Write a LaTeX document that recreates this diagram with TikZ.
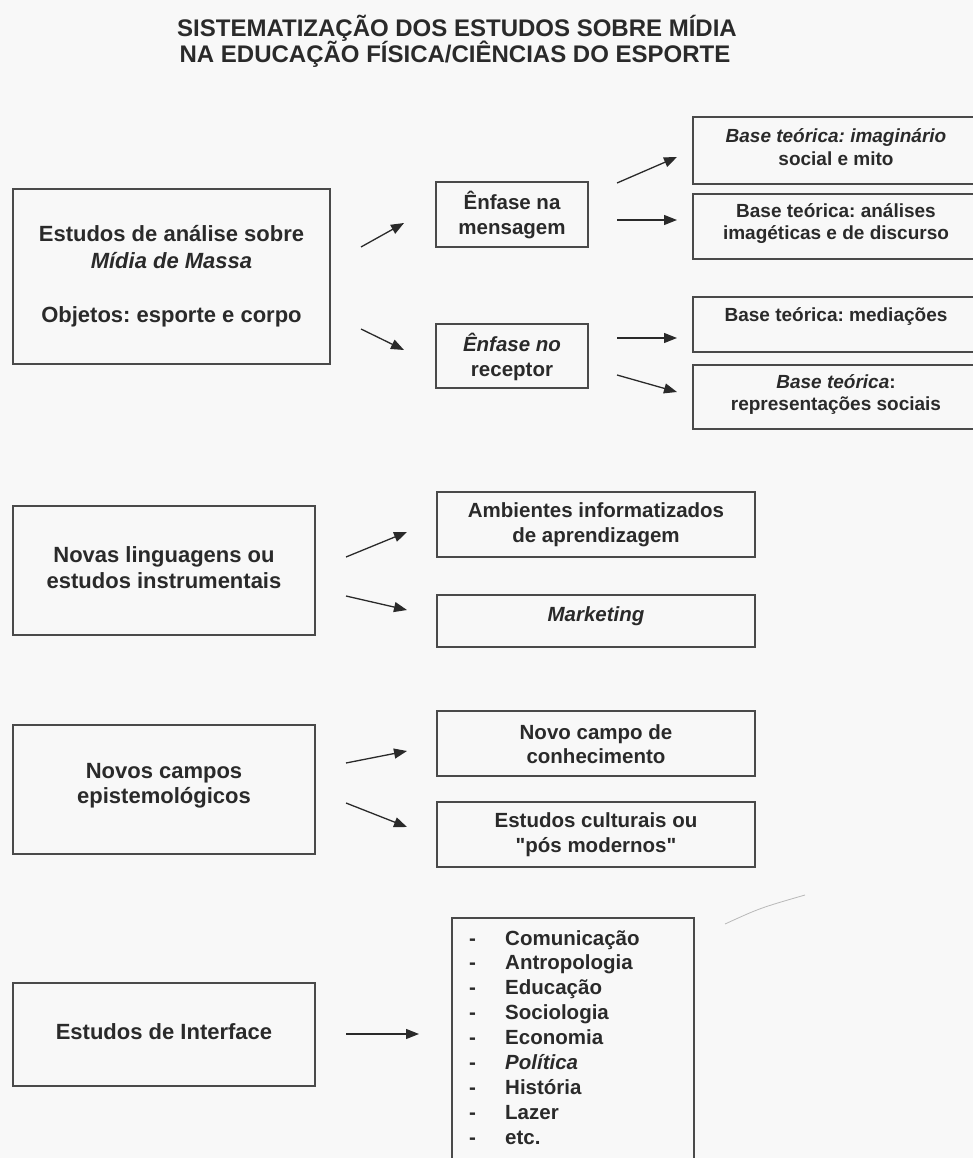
\documentclass[tikz,border=0pt]{standalone}
\usepackage{fontspec}
\setmainfont{Liberation Sans}[Ligatures=TeXOff]
\usetikzlibrary{arrows.meta}
\definecolor{ink}{HTML}{2A2A2A}
\definecolor{frame}{HTML}{4A4A4A}
\definecolor{paper}{HTML}{F8F8F8}
\frenchspacing
\begin{document}
\begin{tikzpicture}[x=1pt,y=-1pt,
  box/.style={draw=frame, line width=1.4pt, inner sep=0pt},
  ttl/.style={text=ink, anchor=base, inner sep=0pt, font=\fontsize{24}{26}\selectfont\bfseries},
  ltxt/.style={text=ink, align=center, font=\fontsize{22}{27}\selectfont\bfseries},
  ltxtb/.style={text=ink, align=center, font=\fontsize{22}{25.5}\selectfont\bfseries},
  mtxt/.style={text=ink, align=center, font=\fontsize{20.5}{24.5}\selectfont\bfseries},
  rtxt/.style={text=ink, align=center, font=\fontsize{19}{22.5}\selectfont\bfseries},
  arr/.style={draw=ink, line width=1.3pt, -{Triangle[length=13pt,width=10pt]}},
]
\useasboundingbox (0,0) rectangle (973,1158);
\fill[paper] (0,0) rectangle (973,1158);
\clip (0,0) rectangle (973,1158);

% title
\node[ttl] (title1) at (457,37) {SISTEMATIZAÇÃO DOS ESTUDOS SOBRE MÍDIA};
\node[ttl] (title2) at (455,63) {NA EDUCAÇÃO FÍSICA/CIÊNCIAS DO ESPORTE};

% block 1
\node[box, minimum width=317, minimum height=175] (a1) at (171.5,276.5) {};
\node[ltxt] (a1t) at (171.5,276.5) {Estudos de análise sobre\\\textit{Mídia de Massa}\\[27pt]Objetos: esporte e corpo};

\node[box, minimum width=152, minimum height=65] (m1) at (512,214.5) {};
\node[mtxt] (m1t) at (512,215) {Ênfase na\\mensagem};
\node[box, minimum width=152, minimum height=64] (m2) at (512,356) {};
\node[mtxt] (m2t) at (512,357) {\textit{Ênfase no}\\receptor};

\node[box, minimum width=286, minimum height=67] (b1) at (836,150.5) {};
\node[rtxt] (b1t) at (836,147) {\textit{Base teórica: imaginário}\\social e mito};
\node[box, minimum width=286, minimum height=65] (b2) at (836,226.5) {};
\node[rtxt] (b2t) at (836,223.5) {Base teórica: análises\\imagéticas e de discurso};
\node[box, minimum width=286, minimum height=55] (b3) at (836,324.5) {};
\node[rtxt] (b3t) at (836,317) {Base teórica: mediações};
\node[box, minimum width=286, minimum height=64] (b4) at (836,397) {};
\node[rtxt] (b4t) at (836,394.5) {\textit{Base teórica}:\\representações sociais};

% block 2
\node[box, minimum width=302, minimum height=129] (nl) at (164,570.5) {};
\node[ltxtb] (nlt) at (164,567.5) {Novas linguagens ou\\estudos instrumentais};
\node[box, minimum width=318, minimum height=65] (amb) at (596,524.5) {};
\node[mtxt] (ambt) at (596,524.5) {Ambientes informatizados\\de aprendizagem};
\node[box, minimum width=318, minimum height=52] (mkt) at (596,621) {};
\node[mtxt] (mktt) at (596,616) {\textit{Marketing}};

% block 3
\node[box, minimum width=302, minimum height=129] (nc) at (164,789.5) {};
\node[ltxtb] (nct) at (164,786) {Novos campos\\epistemológicos};
\node[box, minimum width=318, minimum height=65] (nv) at (596,743.5) {};
\node[mtxt] (nvt) at (596,744) {Novo campo de\\conhecimento};
\node[box, minimum width=318, minimum height=65] (ec) at (596,834.5) {};
\node[mtxt] (ect) at (596,834.5) {Estudos culturais ou\\"pós modernos"};

% block 4
\node[box, minimum width=302, minimum height=103] (ei) at (164,1034.5) {};
\node[ltxt] (eit) at (164,1032) {Estudos de Interface};
\node[box, minimum width=242, minimum height=262] (li) at (573,1049) {};
\node[text=ink, anchor=base west, inner sep=0pt, font=\fontsize{20.5}{24.9}\selectfont\bfseries] (lit) at (469,945)
 {\begin{tabular}[t]{@{}p{36pt}@{}l@{}}
 - & Comunicação\\
 - & Antropologia\\
 - & Educação\\
 - & Sociologia\\
 - & Economia\\
 - & \textit{Política}\\
 - & História\\
 - & Lazer\\
 - & etc.
 \end{tabular}};

% arrow end points
\coordinate (p1s) at (361,247); \coordinate (p1e) at (404,223);
\coordinate (p2s) at (361,329); \coordinate (p2e) at (404,350);
\coordinate (p3s) at (617,183); \coordinate (p3e) at (677,157);
\coordinate (p4s) at (617,220); \coordinate (p4e) at (677,220);
\coordinate (p5s) at (617,338); \coordinate (p5e) at (677,338);
\coordinate (p6s) at (617,375); \coordinate (p6e) at (677,392);
\coordinate (p7s) at (346,557); \coordinate (p7e) at (407,532);
\coordinate (p8s) at (346,596); \coordinate (p8e) at (407,610);
\coordinate (p9s) at (346,763); \coordinate (p9e) at (407,751);
\coordinate (p10s) at (346,803); \coordinate (p10e) at (407,827);
\coordinate (p11s) at (346,1034); \coordinate (p11e) at (419,1034);
\foreach \i in {1,...,11} {\draw[arr] (p\i s) -- (p\i e);}

% pencil stroke
\coordinate (s1) at (725,924); \coordinate (s2) at (805,895);
\draw[gray!55, line width=0.8pt] (s1) .. controls (760,908) .. (s2);
\end{tikzpicture}
\end{document}
